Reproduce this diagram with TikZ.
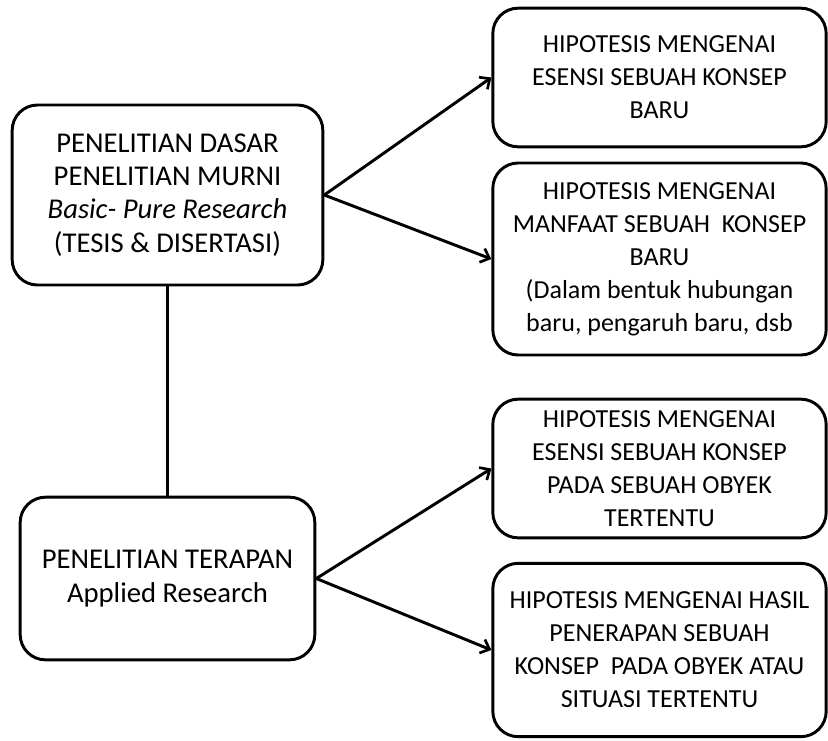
\documentclass[tikz,border=0pt]{standalone}
\usepackage{fontspec}
\setmainfont{Carlito}
\usetikzlibrary{arrows.meta}
\begin{document}
\begin{tikzpicture}[x=0.75pt,y=-0.75pt,
  box/.style={draw=black, line width=2.2pt, rounded corners=19pt, align=center,
    inner sep=0pt, font=\fontsize{19.5}{24.75}\selectfont},
  bigbox/.style={box, font=\fontsize{21.5}{25}\selectfont},
  link/.style={line width=2.2pt, draw=black},
  arrowlink/.style={link, -{Straight Barb[length=6pt,width=11pt,line width=2pt]}}]
\useasboundingbox (0,0) rectangle (828,740);
\fill[white] (0,0) rectangle (828,740);

% research types on the left
\node[bigbox, minimum width=233pt, minimum height=135pt] (dasar) at (167.5,195)
  {PENELITIAN DASAR\\PENELITIAN MURNI\\\textit{Basic- Pure Research}\\(TESIS \& DISERTASI)};
\node[bigbox, minimum width=221pt, minimum height=122pt] (terapan) at (167.5,578.5)
  {PENELITIAN TERAPAN\\Applied Research};

% hypotheses on the right
\node[box, minimum width=250pt, minimum height=104pt] (h1) at (659.5,77.5)
  {HIPOTESIS MENGENAI\\ESENSI SEBUAH KONSEP\\BARU};
\node[box, minimum width=250pt, minimum height=144pt] (h2) at (659.5,259)
  {HIPOTESIS MENGENAI\\MANFAAT SEBUAH~ KONSEP\\BARU\\(Dalam bentuk hubungan\\baru, pengaruh baru, dsb};
\node[box, minimum width=250pt, minimum height=104pt] (h3) at (659.5,468.5)
  {HIPOTESIS MENGENAI\\ESENSI SEBUAH KONSEP\\PADA SEBUAH OBYEK\\TERTENTU};
\node[box, minimum width=250pt, minimum height=130pt] (h4) at (659.5,650)
  {HIPOTESIS MENGENAI HASIL\\PENERAPAN SEBUAH\\KONSEP~ PADA OBYEK ATAU\\SITUASI TERTENTU};

% connectors
\draw[link] (dasar.south) -- (terapan.north);
\draw[arrowlink] (dasar.east) -- (h1.west);
\draw[arrowlink] (dasar.east) -- (h2.west);
\draw[arrowlink] (terapan.east) -- (h3.west);
\draw[arrowlink] (terapan.east) -- (h4.west);
\end{tikzpicture}
\end{document}
